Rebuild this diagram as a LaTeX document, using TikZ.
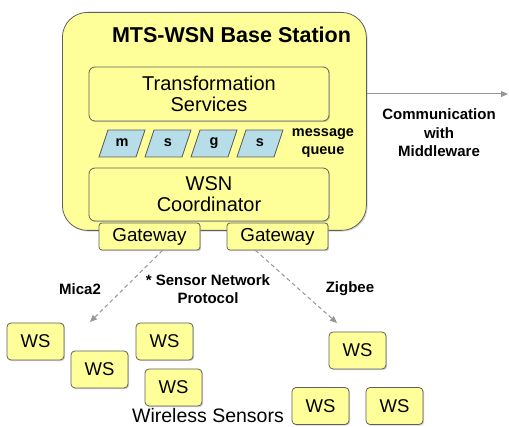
\documentclass[tikz,border=0pt]{standalone}
\usepackage{fontspec}
\setmainfont{Liberation Sans}
\usetikzlibrary{arrows.meta,shadows}
\definecolor{ylw}{RGB}{255,255,153}
\definecolor{bdr}{RGB}{95,95,95}
\definecolor{qblue}{RGB}{183,221,232}
\definecolor{arr}{RGB}{150,150,150}
\begin{document}
\begin{tikzpicture}[x=1pt,y=-1pt,
  box/.style={draw=bdr, fill=ylw, line width=0.8pt, rounded corners=6pt, inner sep=0pt,
    drop shadow={shadow xshift=1.2pt, shadow yshift=-1.2pt, fill=black!35}},
  inbox/.style={box, minimum width=240pt, minimum height=54pt, align=center,
    font=\fontsize{20}{21}\selectfont},
  gw/.style={box, rounded corners=3pt, minimum width=101pt, minimum height=27pt,
    font=\fontsize{18.8}{21}\selectfont},
  ws/.style={box, rounded corners=4pt, minimum width=57pt, minimum height=37pt,
    font=\fontsize{18.5}{20}\selectfont},
  qbox/.style={draw=bdr, fill=qblue, line width=0.8pt},
  qtxt/.style={font=\fontsize{14.5}{16}\selectfont\bfseries},
  lbl/.style={font=\fontsize{15}{18.5}\selectfont\bfseries, align=center},
  conn/.style={draw=arr, line width=1pt, -{Triangle[length=7pt,width=6pt]}},
  dconn/.style={conn, dashed, dash pattern=on 4pt off 3pt}
]
\useasboundingbox (0,0) rectangle (509,427);

% base station
\node[box, rounded corners=25pt, minimum width=304pt, minimum height=218pt, anchor=north west] (base) at (62,12) {};
\node[font=\fontsize{21.5}{23}\selectfont\bfseries] (title) at (231.5,35) {MTS-WSN Base Station};
\node[inbox] (ts) at (209,94) {Transformation\\Services};
\node[inbox, minimum height=53pt] (coord) at (209,194.5) {WSN\\Coordinator};
\node[gw] (gw1) at (149.5,236.5) {Gateway};
\node[gw] (gw2) at (277.5,236.5) {Gateway};

% message queue
\foreach \cx/\t/\n in {122/m/q1, 168/s/q2, 214/g/q3, 260/s/q4}{
  \draw[qbox] (\cx-14,130) -- (\cx+23,130) -- (\cx+14,157) -- (\cx-23,157) -- cycle;
  \node[qtxt] (\n) at (\cx,143) {\t};
}
\node[lbl, font=\fontsize{14.5}{18}\selectfont\bfseries] (mq) at (323,143) {message\\queue};

% middleware
\coordinate (mw) at (508,94);
\draw[conn] (base.east |- mw) -- (mw);
\node[lbl] (mwl) at (439,133) {Communication\\with\\Middleware};

% wireless sensors
\node[ws] (w1) at (35.5,341.5) {WS};
\node[ws] (w2) at (99.5,369.5) {WS};
\node[ws] (w3) at (164.5,341.5) {WS};
\node[ws] (w4) at (173.5,387.5) {WS};
\node[ws] (w5) at (357.5,350.5) {WS};
\node[ws] (w6) at (320.5,406) {WS};
\node[ws] (w7) at (394.5,406) {WS};
\node[font=\fontsize{19.5}{21}\selectfont, inner sep=0pt] (wsl) at (208,416) {Wireless Sensors};

% protocol arrows
\coordinate (t1) at (90,322);
\coordinate (t2) at (337,323);
\draw[dconn] ([xshift=13pt]gw1.south) -- (t1);
\draw[dconn] ([xshift=-22pt]gw2.south) -- (t2);
\node[lbl] (mica) at (80,289) {Mica2};
\node[lbl] (snp) at (208,289) {* Sensor Network\\Protocol};
\node[lbl] (zig) at (350,289) {Zigbee};
\end{tikzpicture}
\end{document}
